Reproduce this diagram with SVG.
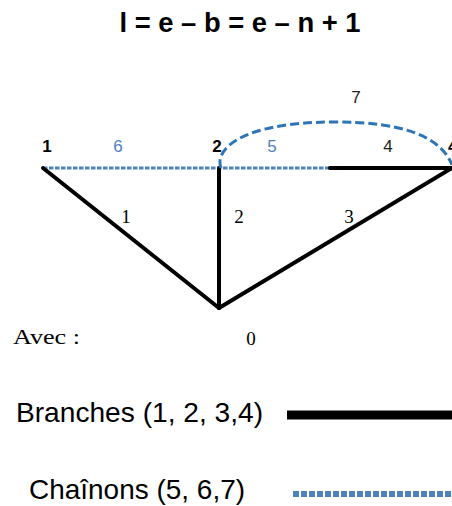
<svg xmlns="http://www.w3.org/2000/svg" width="452" height="506" viewBox="0 0 452 506">
<style>
.sans{font-family:"Liberation Sans",Arial,sans-serif}
.serif{font-family:"Liberation Serif","Times New Roman",serif}
.br{stroke:#000;stroke-width:4;fill:none;stroke-linecap:round}
.ch{stroke:#4f81bd;stroke-width:3;fill:none;stroke-dasharray:4.5 1.5}
.arc{stroke:#2e75b6;stroke-width:3;fill:none;stroke-dasharray:9 4}
.nl{font-size:17px;font-weight:bold;fill:#000}
.el{font-size:19px;fill:#000}
.bl{font-size:17px;fill:#4f81bd}
</style>
<rect width="452" height="506" fill="#fff"/>
<text class="sans" x="240" y="32" font-size="28" font-weight="bold" text-anchor="middle" textLength="241" lengthAdjust="spacingAndGlyphs">l = e – b = e – n + 1</text>
<g id="connectors">
<line class="ch" x1="43" y1="168" x2="330" y2="168"/>
<line class="br" x1="330" y1="168" x2="452" y2="168" stroke-linecap="butt"/>
<line class="br" x1="43" y1="168" x2="219" y2="308"/>
<line class="br" x1="219" y1="168" x2="219" y2="308" stroke-linecap="butt"/>
<line class="br" x1="219" y1="308" x2="452" y2="168"/>
<path class="arc" d="M 221 168 C 214 150, 240 122, 335 122 C 400 122, 440 135, 452 165"/>
<text class="serif el" x="126" y="223" text-anchor="middle">1</text>
<text class="serif el" x="239" y="223" text-anchor="middle">2</text>
<text class="serif el" x="349" y="223" text-anchor="middle">3</text>
<text class="sans bl" x="118" y="152" text-anchor="middle">6</text>
<text class="sans bl" x="272" y="152" text-anchor="middle">5</text>
<text class="sans" x="388" y="152" font-size="17" text-anchor="middle" fill="#222">4</text>
<text class="sans" x="356" y="103" font-size="17" text-anchor="middle" fill="#222">7</text>
</g>
<g id="node1"><text class="sans nl" x="47" y="152" text-anchor="middle">1</text></g>
<g id="node2"><text class="sans nl" x="217" y="152" text-anchor="middle">2</text></g>
<g id="node4"><text class="sans nl" x="448" y="152">4</text></g>
<g id="node0"><text class="serif el" x="251" y="345" text-anchor="middle">0</text></g>
<text class="serif" x="13" y="344" font-size="22" textLength="67" lengthAdjust="spacingAndGlyphs">Avec :</text>
<g id="legend">
<text class="sans" x="16" y="422" font-size="28" textLength="247" lengthAdjust="spacingAndGlyphs">Branches (1, 2, 3,4)</text>
<line x1="287" y1="415" x2="452" y2="415" stroke="#000" stroke-width="9"/>
<text class="sans" x="29" y="499" font-size="28" textLength="216" lengthAdjust="spacingAndGlyphs">Chaînons (5, 6,7)</text>
<line x1="293" y1="494" x2="452" y2="494" stroke="#4f81bd" stroke-width="6" stroke-dasharray="6 2"/>
</g>
</svg>
